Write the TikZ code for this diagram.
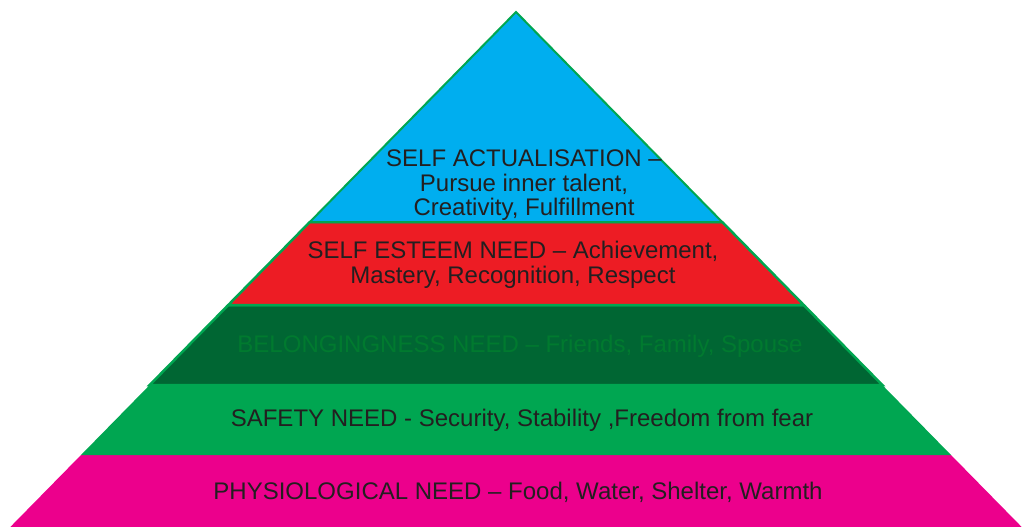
\documentclass[tikz,border=0pt]{standalone}
\usepackage{fontspec}
\setmainfont{Liberation Sans}
\definecolor{blueL}{HTML}{00AEEF}
\definecolor{redL}{HTML}{ED1C24}
\definecolor{dgreenL}{HTML}{006633}
\definecolor{greenL}{HTML}{00A651}
\definecolor{magL}{HTML}{EC008C}
\definecolor{txt}{HTML}{231F20}
\definecolor{belt}{HTML}{007A2F}
\tikzset{
  layer/.style={draw=greenL, line width=2.5pt, line join=miter},
  lbl/.style={font=\fontsize{24}{24.5}\selectfont, text=txt, align=center, inner sep=0pt},
}
\begin{document}
\begin{tikzpicture}[x=1pt,y=-1pt]
\useasboundingbox (0,0) rectangle (1022,527);
% layers
\fill[magL] (10.3,527) -- (81,455) -- (951,455) -- (1021.7,527) -- cycle;
\fill[greenL] (81,455) -- (149.7,385) -- (882.3,385) -- (951,455) -- cycle;
\filldraw[layer, fill=dgreenL] (149.7,385) -- (228.3,305) -- (803.7,305) -- (882.3,385) -- cycle;
\filldraw[layer, fill=redL] (228.3,305) -- (309.8,222) -- (722.2,222) -- (803.7,305) -- cycle;
\filldraw[layer, line width=2pt, fill=blueL] (309.8,222) -- (516,12) -- (722.2,222) -- cycle;
% labels
\node[lbl] (sa) at (524,185.5) {SELF ACTUALISATION –\\Pursue inner talent,\\Creativity, Fulfillment};
\node[lbl] (se) at (513,265) {SELF ESTEEM NEED – Achievement,\\Mastery, Recognition, Respect};
\node[lbl, text=belt] (bn) at (520,346) {BELONGINGNESS NEED – Friends, Family, Spouse};
\node[lbl] (sn) at (522,420.5) {SAFETY NEED - Security, Stability ,Freedom from fear};
\node[lbl] (pn) at (518,492) {PHYSIOLOGICAL NEED – Food, Water, Shelter, Warmth};
\end{tikzpicture}
\end{document}
